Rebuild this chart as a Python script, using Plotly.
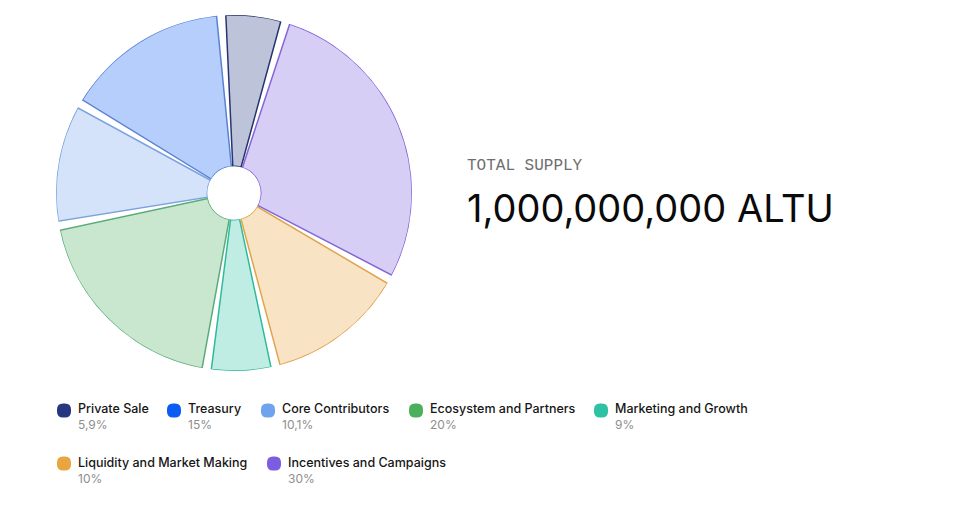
import numpy as np
import plotly.graph_objects as go

# ---- data ----
categories = ["Private Sale", "Treasury", "Core Contributors", "Ecosystem and Partners",
              "Marketing and Growth", "Liquidity and Market Making", "Incentives and Campaigns"]
legend_pct = ["5,9%", "15%", "10,1%", "20%", "9%", "10%", "30%"]
# slice sizes as drawn in the picture (percent of the circle)
slice_values = [5.8, 15.5, 11.3, 19.6, 6.2, 13.2, 28.4]

total_label = "TOTAL SUPPLY"
total_value = "1,000,000,000 ALTU"

# ---- style ----
base_colors = ["#253780", "#0b5cf3", "#6fa3ee", "#4caf5c", "#2cc2a3", "#e9a53f", "#7c5ce0"]
border_colors = ["#26346f", "#5a82d4", "#7ca2de", "#5bab7a", "#30ba9c", "#e0a44f", "#8466d6"]

W, H = 957, 506
OX, OY = 8, 8   # page offset of the plot inside the browser window


def rgba(hexc, a):
    h = hexc.lstrip("#")
    r, g, b = int(h[0:2], 16), int(h[2:4], 16), int(h[4:6], 16)
    return f"rgba({r},{g},{b},{a})"


def px(x):
    return (x - OX) / W


def py(y):
    return 1 - (y - OY) / H


vals = np.array(slice_values, dtype=float)
frac = vals / vals.sum() * 360.0
cum = np.concatenate([[0], np.cumsum(frac)[:-1]])
start_angle = 16.75   # clockwise-from-top edge where the first slice begins (going counter-clockwise)
pad = 3.0
theta = start_angle - (cum + frac / 2.0)
widths = frac - pad

fig = go.Figure()
fig.add_trace(go.Barpolar(
    r=[1] * len(categories),
    theta=theta,
    width=widths,
    text=categories,
    marker=dict(color=[rgba(c, 0.3) for c in base_colors],
                line=dict(color=border_colors, width=1.5)),
    hoverinfo="text",
    showlegend=False,
))

cx, cy, R = 234, 193, 178
fig.update_layout(
    width=W, height=H,
    margin=dict(l=0, r=0, t=0, b=0),
    paper_bgcolor="white", plot_bgcolor="white",
    polar=dict(
        domain=dict(x=[px(cx - R), px(cx + R)], y=[py(cy + R), py(cy - R)]),
        hole=0.15,
        bgcolor="white",
        radialaxis=dict(visible=False, range=[0, 1]),
        angularaxis=dict(visible=False, rotation=90, direction="clockwise"),
        barmode="overlay",
    ),
    showlegend=False,
)

annotations = []
shapes = []

# total supply text
annotations.append(dict(x=px(466), y=py(166), xref="paper", yref="paper", xanchor="left",
                        yanchor="middle", text=total_label, showarrow=False, borderpad=0,
                        font=dict(family="Liberation Mono", size=16, color="#6e6e6e")))
annotations.append(dict(x=px(466), y=py(208), xref="paper", yref="paper", xanchor="left",
                        yanchor="middle", text=total_value, showarrow=False, borderpad=0,
                        font=dict(family="Inter", size=38, color="#0a0a0a")))

# custom legend
marker_x = [57, 167, 261, 409, 594, 57, 267]
row_y = [0, 0, 0, 0, 0, 1, 1]
label_y = [408, 462]
pct_y = [424.5, 478]
marker_y = [410.5, 463.5]
s = 14
rr = 6
for i, name in enumerate(categories):
    row = row_y[i]
    mx = marker_x[i]
    my = marker_y[row]
    path = (f"M {-s/2 + rr},{-s/2} L {s/2 - rr},{-s/2} Q {s/2},{-s/2} {s/2},{-s/2 + rr} "
            f"L {s/2},{s/2 - rr} Q {s/2},{s/2} {s/2 - rr},{s/2} L {-s/2 + rr},{s/2} "
            f"Q {-s/2},{s/2} {-s/2},{s/2 - rr} L {-s/2},{-s/2 + rr} Q {-s/2},{-s/2} {-s/2 + rr},{-s/2} Z")
    shapes.append(dict(type="path", xref="paper", yref="paper",
                       xsizemode="pixel", ysizemode="pixel",
                       xanchor=px(mx + s / 2), yanchor=py(my),
                       path=path, fillcolor=base_colors[i], line=dict(width=0)))
    annotations.append(dict(x=px(mx + 20), y=py(label_y[row]), xref="paper", yref="paper",
                            xanchor="left", yanchor="middle", text=name, showarrow=False,
                            borderpad=0, font=dict(family="Inter", size=12.5, color="#161616",
                                                   weight=500)))
    annotations.append(dict(x=px(mx + 20), y=py(pct_y[row]), xref="paper", yref="paper",
                            xanchor="left", yanchor="middle", text=legend_pct[i], showarrow=False,
                            borderpad=0, font=dict(family="Inter", size=12, color="#8e8e8e")))

fig.update_layout(annotations=annotations, shapes=shapes)
fig.write_html("out.html")
